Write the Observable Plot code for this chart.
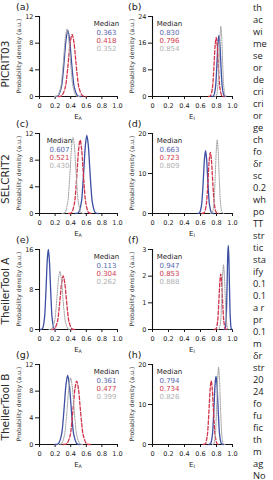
<!DOCTYPE html>
<html>
<head>
<meta charset="utf-8">
<script src="https://cdn.jsdelivr.net/npm/d3@7"></script>
<script src="https://cdn.jsdelivr.net/npm/@observablehq/plot@0.6"></script>
<style>
  body { margin: 0; background: #fff; }
  #fig { position: relative; width: 273px; height: 480px; overflow: hidden; background: #fff; }
  #fig svg { position: absolute; }
</style>
</head>
<body>
<div id="fig"></div>
<script>
// ---- Panel annotations ----
const rowNames = ["PICRIT03", "SELCRIT2", "TheilerTool A", "TheilerTool B"];
const panelLetters = ["(a)", "(b)", "(c)", "(d)", "(e)", "(f)", "(g)", "(h)"];
const yTitle = "Probability density (a.u.)";
const xSubscripts = ["A", "I"];
const xTicks = [0, 0.2, 0.4, 0.6, 0.8, 1.0];
const yMax = [12, 24, 12, 20, 16, 3, 12, 20];
const yTicks = [[0, 4, 8, 12], [0, 8, 16, 24], [0, 4, 8, 12], [0, 10, 20],
                [0, 8, 16], [0, 1, 2, 3], [0, 4, 8, 12], [0, 10, 20]];
const medianBlue = ["0.363", "0.830", "0.607", "0.663", "0.113", "0.947", "0.361", "0.794"];
const medianRed  = ["0.418", "0.796", "0.521", "0.723", "0.304", "0.853", "0.477", "0.734"];
const medianGray = ["0.352", "0.854", "0.430", "0.809", "0.262", "0.888", "0.399", "0.826"];

// ---- Posterior densities: [value, density] ----
const aBlue = [[0.200,0],[0.237,0.11],[0.279,1.34],[0.300,3.2],[0.321,6.0],[0.342,8.7],[0.363,9.9],[0.384,8.7],[0.405,6.0],[0.426,3.2],[0.447,1.34],[0.489,0.11],[0.530,0]];
const aRed  = [[0.238,0],[0.283,0.10],[0.328,1.26],[0.3505,3.0],[0.373,5.65],[0.3955,8.2],[0.418,9.3],[0.4405,8.2],[0.463,5.65],[0.4855,3.0],[0.508,1.26],[0.553,0.10],[0.598,0]];
const aGray = [[0.192,0],[0.232,0.11],[0.272,1.36],[0.292,3.3],[0.312,6.1],[0.332,8.9],[0.352,10.1],[0.372,8.9],[0.392,6.1],[0.412,3.3],[0.432,1.36],[0.472,0.11],[0.512,0]];

const bBlue = [[0.742,0],[0.764,0.2],[0.786,2.5],[0.797,5.9],[0.808,11.1],[0.819,16.1],[0.830,18.3],[0.841,16.1],[0.852,11.1],[0.863,5.9],[0.874,2.5],[0.896,0.2],[0.918,0]];
const bRed  = [[0.700,0],[0.724,0.19],[0.748,2.4],[0.760,5.75],[0.772,10.7],[0.784,15.6],[0.796,17.7],[0.808,15.6],[0.820,10.7],[0.832,5.75],[0.844,2.4],[0.868,0.19],[0.892,0]];
const bGray = [[0.778,0],[0.797,0.23],[0.816,2.8],[0.8255,6.8],[0.835,12.7],[0.8445,18.5],[0.854,21.0],[0.8635,18.5],[0.873,12.7],[0.8825,6.8],[0.892,2.8],[0.911,0.23],[0.930,0]];

const cBlue = [[0.463,0],[0.499,0.13],[0.535,1.58],[0.553,3.8],[0.571,7.1],[0.589,10.3],[0.607,11.7],[0.625,10.3],[0.643,7.1],[0.661,3.8],[0.679,1.58],[0.715,0.13],[0.751,0]];
const cRed  = [[0.373,0],[0.410,0.12],[0.447,1.49],[0.4655,3.6],[0.484,6.7],[0.5025,9.7],[0.521,11.0],[0.5395,9.7],[0.558,6.7],[0.5765,3.6],[0.595,1.49],[0.632,0.12],[0.669,0]];
const cGray = [[0.290,0],[0.325,0.13],[0.360,1.54],[0.3775,3.7],[0.395,6.9],[0.4125,10.1],[0.430,11.4],[0.4475,10.1],[0.465,6.9],[0.4825,3.7],[0.500,1.54],[0.535,0.13],[0.570,0]];

const dBlue = [[0.563,0],[0.588,0.17],[0.613,2.1],[0.6255,5.1],[0.638,9.5],[0.6505,13.8],[0.663,15.7],[0.6755,13.8],[0.688,9.5],[0.7005,5.1],[0.713,2.1],[0.738,0.17],[0.763,0]];
const dRed  = [[0.619,0],[0.645,0.17],[0.671,2.07],[0.684,5.0],[0.697,9.3],[0.710,13.5],[0.723,15.3],[0.736,13.5],[0.749,9.3],[0.762,5.0],[0.775,2.07],[0.801,0.17],[0.827,0]];
const dGray = [[0.725,0],[0.746,0.2],[0.767,2.5],[0.7775,6.0],[0.788,11.2],[0.7985,16.2],[0.809,18.4],[0.8195,16.2],[0.830,11.2],[0.8405,6.0],[0.851,2.5],[0.872,0.2],[0.893,0]];

const eBlue = [[0.013,0],[0.038,0.18],[0.063,2.16],[0.0755,5.2],[0.088,9.7],[0.1005,14.1],[0.113,16.0],[0.1255,14.1],[0.138,9.7],[0.1505,5.2],[0.163,2.16],[0.188,0.18],[0.213,0]];
const eRed  = [[0.152,0],[0.190,0.12],[0.228,1.45],[0.247,3.5],[0.266,6.5],[0.285,9.4],[0.304,10.7],[0.323,9.4],[0.342,6.5],[0.361,3.5],[0.380,1.45],[0.418,0.12],[0.456,0]];
const eGray = [[0.122,0],[0.157,0.13],[0.192,1.57],[0.2095,3.8],[0.227,7.0],[0.2445,10.2],[0.262,11.6],[0.2795,10.2],[0.297,7.0],[0.3145,3.8],[0.332,1.57],[0.367,0.13],[0.402,0]];

const fBlue = [[0.895,0],[0.908,0.03],[0.921,0.43],[0.9275,1.02],[0.934,1.91],[0.9405,2.78],[0.947,3.15],[0.9535,2.78],[0.960,1.91],[0.9665,1.02],[0.973,0.43],[0.986,0.03],[0.999,0]];
const fRed  = [[0.773,0],[0.793,0.02],[0.813,0.28],[0.823,0.68],[0.833,1.26],[0.843,1.83],[0.853,2.08],[0.863,1.83],[0.873,1.26],[0.883,0.68],[0.893,0.28],[0.913,0.02],[0.933,0]];
const fGray = [[0.816,0],[0.834,0.03],[0.852,0.33],[0.861,0.79],[0.870,1.47],[0.879,2.13],[0.888,2.42],[0.897,2.13],[0.906,1.47],[0.915,0.79],[0.924,0.33],[0.942,0.03],[0.960,0]];

const gBlue = [[0.201,0],[0.241,0.11],[0.281,1.4],[0.301,3.36],[0.321,6.3],[0.341,9.1],[0.361,10.35],[0.381,9.1],[0.401,6.3],[0.421,3.36],[0.441,1.4],[0.481,0.11],[0.521,0]];
const gRed  = [[0.305,0],[0.348,0.1],[0.391,1.28],[0.4125,3.1],[0.434,5.77],[0.4555,8.4],[0.477,9.5],[0.4985,8.4],[0.520,5.77],[0.5415,3.1],[0.563,1.28],[0.606,0.1],[0.649,0]];
const gGray = [[0.239,0],[0.279,0.11],[0.319,1.34],[0.339,3.23],[0.359,6.04],[0.379,8.78],[0.399,9.95],[0.419,8.78],[0.439,6.04],[0.459,3.23],[0.479,1.34],[0.519,0.11],[0.559,0]];

const hBlue = [[0.702,0],[0.725,0.19],[0.748,2.3],[0.7595,5.6],[0.771,10.4],[0.7825,15.1],[0.794,17.1],[0.8055,15.1],[0.817,10.4],[0.8285,5.6],[0.840,2.3],[0.863,0.19],[0.886,0]];
const hRed  = [[0.634,0],[0.659,0.17],[0.684,2.15],[0.6965,5.2],[0.709,9.65],[0.7215,14.0],[0.734,15.9],[0.7465,14.0],[0.759,9.65],[0.7715,5.2],[0.784,2.15],[0.809,0.17],[0.834,0]];
const hGray = [[0.746,0],[0.766,0.21],[0.786,2.6],[0.796,6.3],[0.806,11.7],[0.816,17.0],[0.826,19.3],[0.836,17.0],[0.846,11.7],[0.856,6.3],[0.866,2.6],[0.886,0.21],[0.906,0]];

const blueCurves = [aBlue, bBlue, cBlue, dBlue, eBlue, fBlue, gBlue, hBlue];
const redCurves  = [aRed, bRed, cRed, dRed, eRed, fRed, gRed, hRed];
const grayCurves = [aGray, bGray, cGray, dGray, eGray, fGray, gGray, hGray];

// ---- Styling and layout ----
const BLUE = "#3c4fa3", RED = "#d2334a", GRAY = "#a6a6a6";
const BLUE_TXT = "#5a68b0", RED_TXT = "#d23a4c", GRAY_TXT = "#b0b0b0";
const FONT = "'DejaVu Sans', sans-serif";
const axisX0 = [39, 152];          // pixel x of the y-axis, per column
const rowTop = [16, 133, 249, 364]; // pixel y of the top of each frame
const plotW = [78, 80], plotH = 80;
const M = {left: 26, top: 8, right: 8, bottom: 30};
const medianDx = [67, 17, 20, 17, 67, 17, 67, 17];

const fig = document.getElementById("fig");

// The eight density panels
for (let i = 0; i < 8; i++) {
  const col = i % 2, row = Math.floor(i / 2);
  const w = plotW[col];
  const medLines = [
    {t: "Median", c: "#222"},
    {t: medianBlue[i], c: BLUE_TXT},
    {t: medianRed[i], c: RED_TXT},
    {t: medianGray[i], c: GRAY_TXT}
  ];
  const svg = Plot.plot({
    width: M.left + w + M.right,
    height: M.top + plotH + M.bottom,
    marginLeft: M.left, marginRight: M.right, marginTop: M.top, marginBottom: M.bottom,
    style: {background: "transparent", overflow: "visible", fontFamily: FONT, fontSize: "6.5px", color: "#1a1a1a"},
    x: {domain: [0, 1]},
    y: {domain: [0, yMax[i]]},
    marks: [
      Plot.axisX({ticks: xTicks, tickFormat: d => d === 0 ? "0" : d.toFixed(1), tickSize: 3, tickPadding: 4, label: null}),
      Plot.axisY({ticks: yTicks[i], tickFormat: d => String(d), tickSize: 4, tickPadding: 2, label: null}),
      Plot.ruleX([0], {stroke: "#111", strokeWidth: 1.1}),
      Plot.ruleY([0], {stroke: "#111", strokeWidth: 1.1}),
      Plot.line(blueCurves[i], {x: d => d[0], y: d => d[1], stroke: BLUE, strokeWidth: 1.3, curve: "catmull-rom"}),
      Plot.line(redCurves[i], {x: d => d[0], y: d => d[1], stroke: RED, strokeWidth: 1.3, strokeDasharray: "3.5,2", curve: "catmull-rom"}),
      Plot.line(grayCurves[i], {x: d => d[0], y: d => d[1], stroke: GRAY, strokeWidth: 1.1, strokeDasharray: "1,1.3", curve: "catmull-rom"}),
      ...medLines.map((m, k) => Plot.text([m], {
        text: d => d.t, fill: m.c, frameAnchor: "top-left",
        dx: medianDx[i], dy: 5 + k * 8.2, fontSize: 7, textAnchor: "middle"
      }))
    ]
  });
  svg.style.left = (axisX0[col] - M.left) + "px";
  svg.style.top = (rowTop[row] - M.top) + "px";
  fig.appendChild(svg);

  // x-axis title with subscript
  const t = d3.select(svg).append("text")
    .attr("x", M.left + w / 2).attr("y", M.top + plotH + 22.5)
    .attr("text-anchor", "middle")
    .attr("font-family", FONT).attr("font-size", 7).attr("fill", "#222");
  t.append("tspan").text("E");
  t.append("tspan").attr("font-size", 4.8).attr("dy", 1.6).text(xSubscripts[col]);
}

// Row labels, panel letters, y titles and the neighbouring text column
const overlay = d3.select(fig).append("svg")
  .attr("width", 273).attr("height", 480)
  .style("left", "0px").style("top", "0px");

for (let i = 0; i < 8; i++) {
  const col = i % 2, row = Math.floor(i / 2);
  overlay.append("text")
    .attr("transform", `translate(${axisX0[col] - 18.5},${rowTop[row] + plotH / 2}) rotate(-90)`)
    .attr("text-anchor", "middle")
    .attr("font-family", FONT).attr("font-size", 6.1)
    .attr("fill", "#333")
    .text(yTitle);
  overlay.append("text")
    .attr("x", col === 0 ? 16 : 128)
    .attr("y", rowTop[row] - 6.5)
    .attr("font-family", FONT).attr("font-size", 9.5)
    .attr("fill", "#222")
    .text(panelLetters[i]);
}

const rowCenters = [64, 179, 291, 407];
rowNames.forEach((name, r) => {
  overlay.append("text")
    .attr("transform", `translate(8.5,${rowCenters[r]}) rotate(-90)`)
    .attr("text-anchor", "middle")
    .attr("font-family", FONT).attr("font-size", 10.5)
    .attr("fill", "#2a2a2a")
    .text(name);
});

const bodyLines = ["th", "ac", "wi", "me", "se", "or", "de", "cri", "cri", "or",
  "ge", "ch", "fo", "δr", "sc", "0.2", "wh", "po", "TT", "str",
  "tic", "sta", "ify", "0.1", "0.1", "a r", "pr", "0.1", "m", "δr",
  "str", "20", "24", "fo", "fu", "fic", "th", "m", "ag", "No"];
bodyLines.forEach((s, k) => {
  overlay.append("text")
    .attr("x", 253).attr("y", 10.5 + 12 * k)
    .attr("font-family", "'Open Sans', sans-serif").attr("font-size", 9.3)
    .attr("fill", "#222")
    .text(s);
});
</script>
</body>
</html>
